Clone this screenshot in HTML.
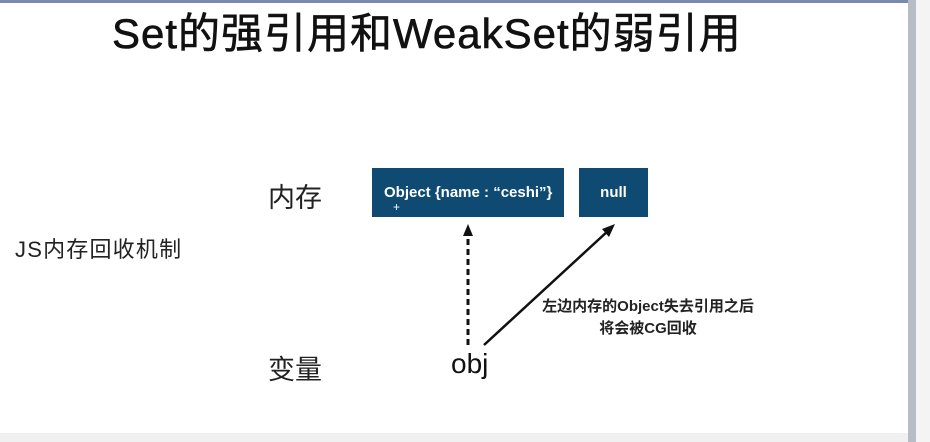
<!DOCTYPE html>
<html><head><meta charset="utf-8"><style>
body{margin:0;width:930px;height:442px;background:#fff;position:relative;overflow:hidden;font-family:"Liberation Sans","Noto Sans CJK SC",sans-serif;}
.a{position:absolute;white-space:nowrap;}
.box{position:absolute;background:#0e4a72;color:#fff;font-weight:bold;font-size:15px;display:flex;align-items:center;}
</style></head><body>
<div class="a" style="left:0;top:0;width:908px;height:3px;background:#7d88b0"></div>
<div class="a" style="left:908px;top:0;width:8px;height:442px;background:#b8bcc4"></div>
<div class="a" style="left:916px;top:0;width:14px;height:442px;background:#f4f4f4"></div>
<div class="a" style="left:0;top:433px;width:908px;height:9px;background:#f0f0f0"></div>
<div class="a" style="left:112px;top:8px;font-size:42px;line-height:52px;color:#111;-webkit-text-stroke:0.6px #111;letter-spacing:1px">Set的强引用和WeakSet的弱引用</div>
<div class="a" style="left:268px;top:176px;font-size:27px;color:#222">内存</div>
<div class="a" style="left:268px;top:348px;font-size:27px;color:#222">变量</div>
<div class="a" style="left:15px;top:232px;font-size:22px;letter-spacing:1.2px;color:#222">JS内存回收机制</div>
<div class="box" style="left:372px;top:168px;width:192px;height:49px;"><span style="margin-left:12px">Object {name : “ceshi”}</span></div>
<div class="a" style="left:393px;top:200px;color:#fff;font-size:12px">+</div>
<div class="box" style="left:579px;top:168px;width:69px;height:49px;justify-content:center">null</div>
<div class="a" style="left:451px;top:348px;font-size:28px;color:#111">obj</div>
<div class="a" style="left:538px;top:296px;font-size:15px;font-weight:bold;color:#222;line-height:22px;text-align:center;width:220px">左边内存的Object失去引用之后<br>将会被CG回收</div>
<svg class="a" style="left:0;top:0" width="930" height="442">
<line x1="468" y1="345" x2="468" y2="232" stroke="#111" stroke-width="3" stroke-dasharray="6,4"/>
<polygon points="468,224 463,236 473,236" fill="#111"/>
<line x1="484" y1="345" x2="609" y2="230" stroke="#111" stroke-width="2.5"/>
<polygon points="615,224 602,229 609,237" fill="#111"/>
</svg>
</body></html>
